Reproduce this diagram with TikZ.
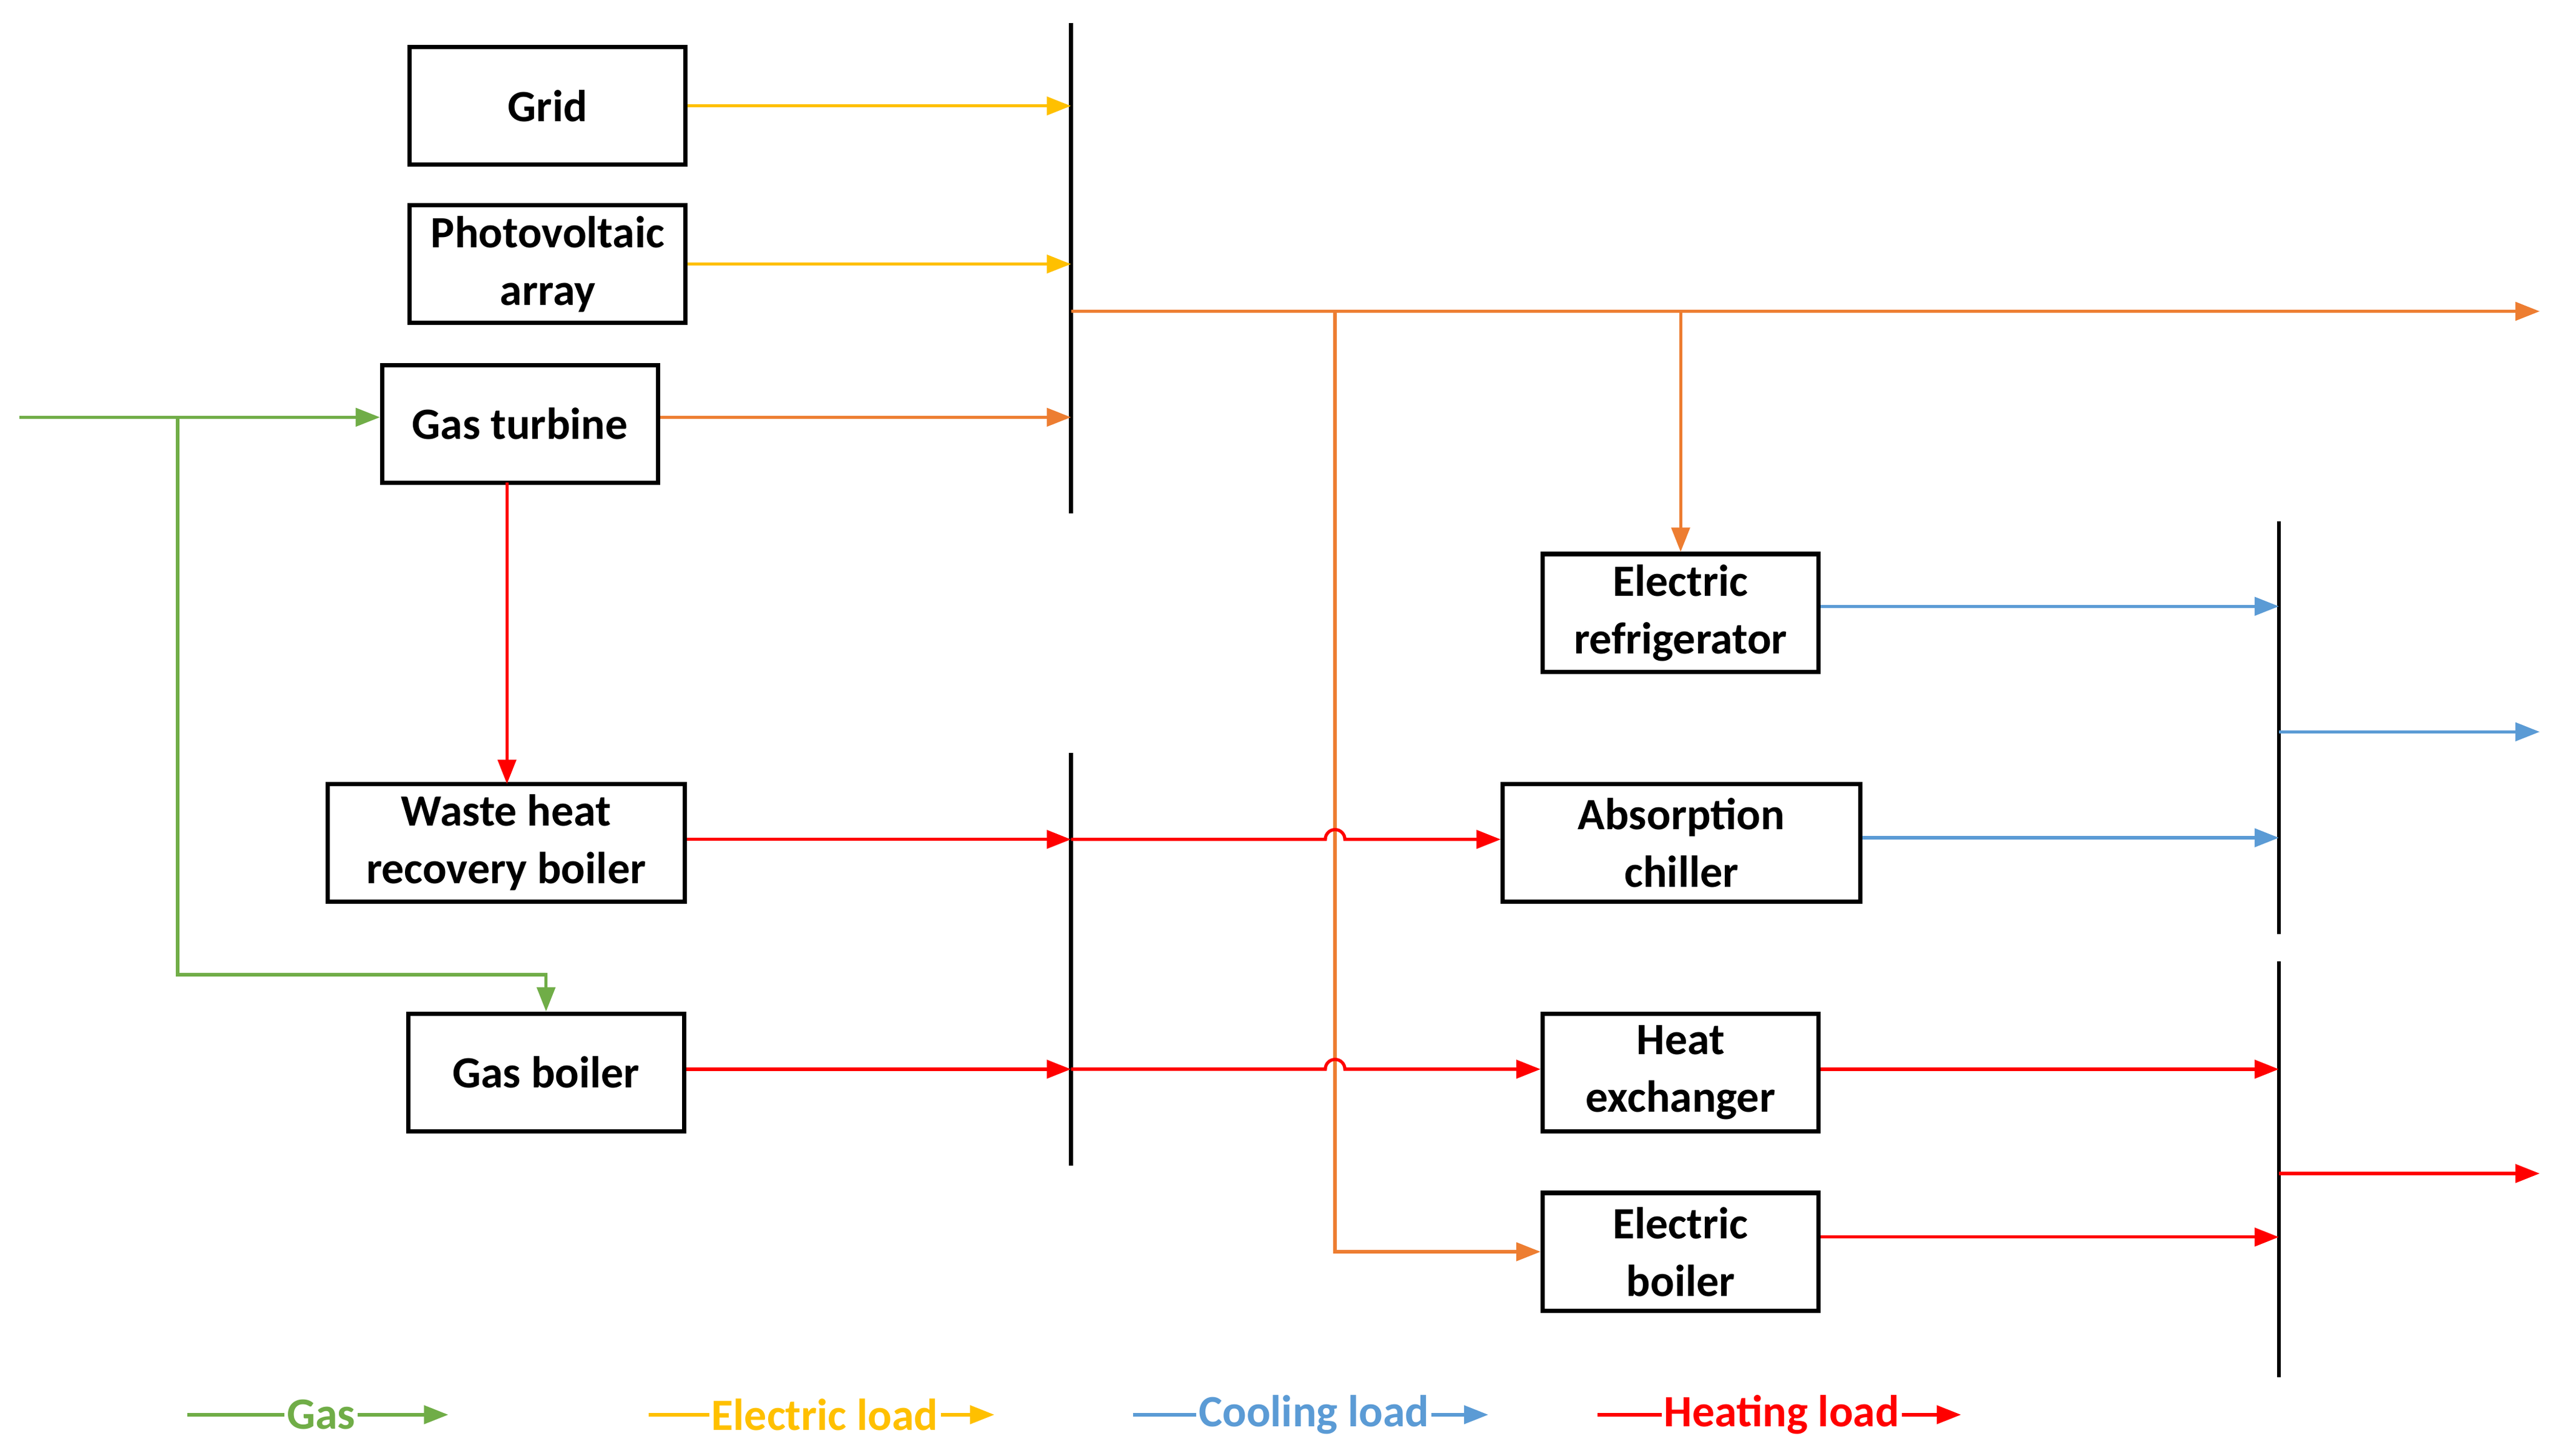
\documentclass[tikz,border=0pt]{standalone}
\usepackage{fontspec}
\setmainfont{Carlito}
\usetikzlibrary{arrows.meta}
\definecolor{cgas}{HTML}{70AD47}
\definecolor{cel}{HTML}{FFC000}
\definecolor{cor}{HTML}{ED7D31}
\definecolor{ccool}{HTML}{5B9BD5}
\definecolor{cheat}{HTML}{FF0000}
\begin{document}
\begin{tikzpicture}[x=0.02689cm,y=-0.02689cm,
  box/.style={draw,line width=2pt,minimum width=4.55cm,minimum height=1.94cm,align=center,font=\fontsize{21}{27}\selectfont\bfseries,inner sep=2pt},
  wbox/.style={box,minimum width=5.89cm},
  ln/.style={line width=1.5pt,-{Triangle[length=0.4cm,width=0.3cm]}},
  bus/.style={line width=1.8pt},
  leg/.style={font=\fontsize{21}{27}\selectfont\bfseries,inner sep=1pt}]
\useasboundingbox (0,0) rectangle (1568,893);
\node[box] (grid) at (336,65) {Grid};
\node[box] (pv) at (336,162) {Photovoltaic\\array};
\node[box] (gt) at (319,260) {Gas turbine};
\node[wbox] (wh) at (310.5,517) {Waste heat\\recovery boiler};
\node[box] (gb) at (335,658) {Gas boiler};
\node[box] (er) at (1031,376) {Electric\\refrigerator};
\node[wbox] (ac) at (1031.5,517) {Absorption\\chiller};
\node[box] (he) at (1031,658) {Heat\\exchanger};
\node[box] (eb) at (1031,768) {Electric\\boiler};
% buses
\draw[bus] (657,14) coordinate (b1t) -- (657,315);
\draw[bus] (657,462) -- (657,715);
\draw[bus] (1398,320) -- (1398,573);
\draw[bus] (1398,590) -- (1398,845);
\coordinate (gin) at (12,256);
\coordinate (eout) at (1558,191);
\coordinate (cout) at (1558,449);
\coordinate (hout) at (1558,720);
% electric
\draw[ln,cel] (grid.east|-0,65) -- (657,65);
\draw[ln,cel] (pv.east|-0,162) -- (657,162);
\draw[ln,cor] (gt.east|-0,256) -- (657,256);
\draw[ln,cor] (657,191) -- (eout);
\draw[ln,cor] (1031,191) -- (er.north);
\draw[ln,cor] (819,191) -- (819,768) -- (eb.west|-0,768);
% gas
\draw[ln,cgas] (gin) -- (gt.west|-0,256);
\draw[ln,cgas] (109,256) -- (109,598) -- (335,598) -- (gb.north);
% heat
\draw[ln,cheat] (311,296) -- (311,481);
\draw[ln,cheat] (wh.east|-0,515) -- (657,515);
\draw[ln,cheat] (657,515) -- (813,515) arc[start angle=180,end angle=360,radius=6] -- (ac.west|-0,515);
\draw[ln,cheat] (gb.east|-0,656) -- (657,656);
\draw[ln,cheat] (657,656) -- (813,656) arc[start angle=180,end angle=360,radius=6] -- (he.west|-0,656);
\draw[ln,cheat] (he.east|-0,656) -- (1398,656);
\draw[ln,cheat] (eb.east|-0,759) -- (1398,759);
\draw[ln,cheat] (1398,720) -- (hout);
% cooling
\draw[ln,ccool] (er.east|-0,372) -- (1398,372);
\draw[ln,ccool] (ac.east|-0,514) -- (1398,514);
\draw[ln,ccool] (1398,449) -- (cout);
% legend
\node[leg,text=cgas] (lg) at (197,868) {Gas};
\draw[line width=1.5pt,cgas] (115,868) -- (lg.west);
\draw[ln,cgas] (lg.east) -- (275,868);
\node[leg,text=cel] (le) at (506,868) {Electric load};
\draw[line width=1.5pt,cel] (398,868) -- (le.west);
\draw[ln,cel] (le.east) -- (610,868);
\node[leg,text=ccool] (lc) at (806,868) {Cooling load};
\draw[line width=1.5pt,ccool] (695,868) -- (lc.west);
\draw[ln,ccool] (lc.east) -- (913,868);
\node[leg,text=cheat] (lh) at (1093,868) {Heating load};
\draw[line width=1.5pt,cheat] (980,868) -- (lh.west);
\draw[ln,cheat] (lh.east) -- (1203,868);
\end{tikzpicture}
\end{document}
